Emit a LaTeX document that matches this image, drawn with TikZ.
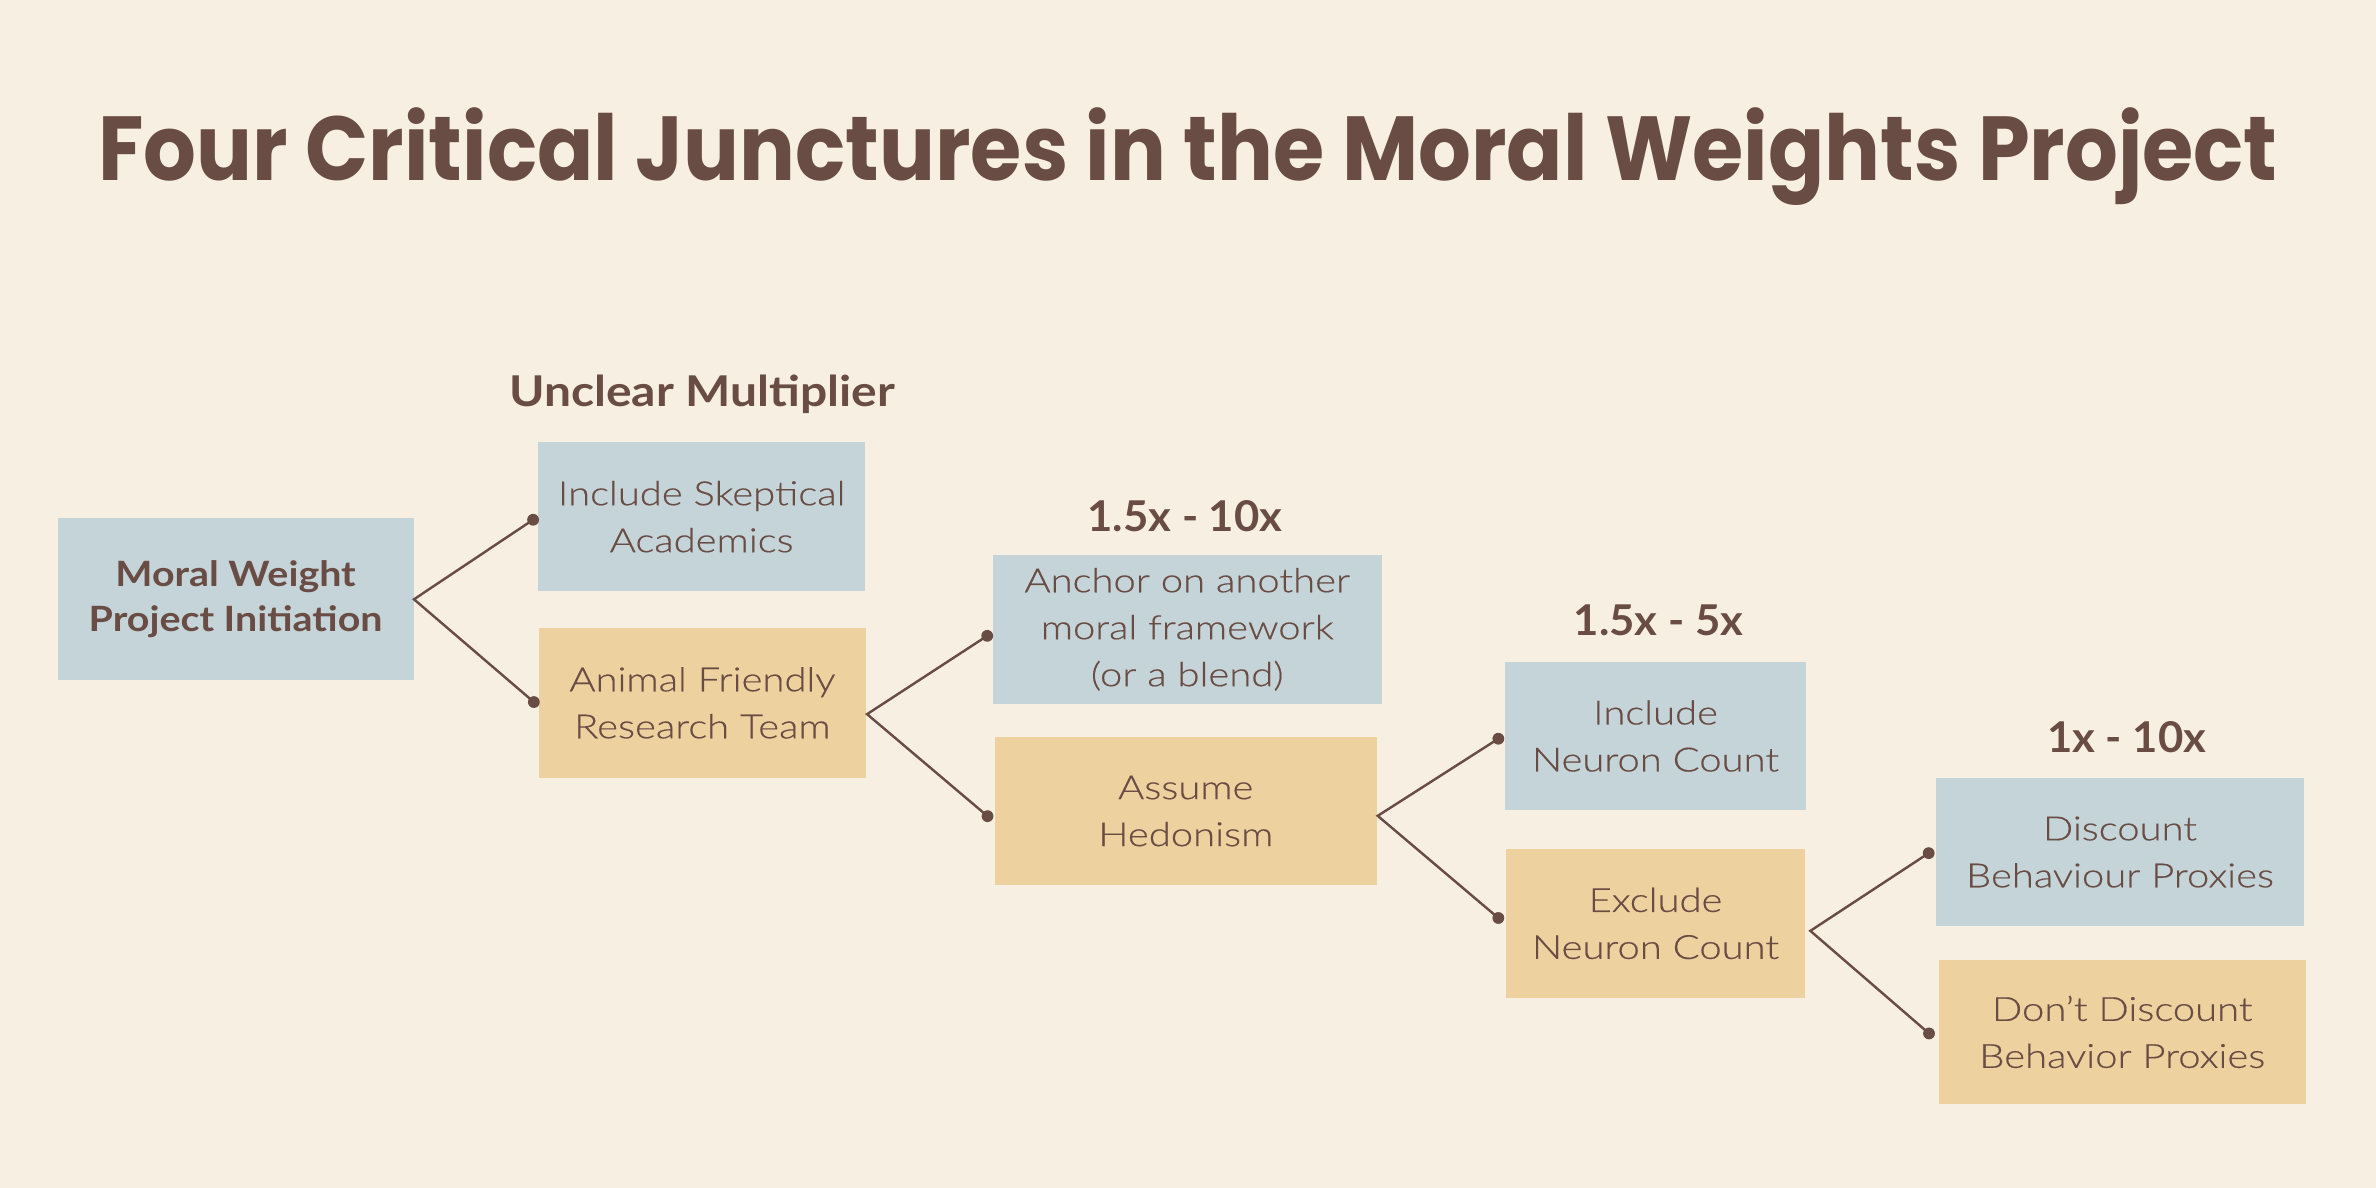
\documentclass[tikz,border=0pt]{standalone}
\usepackage{fontspec}
\usepackage{graphicx}
\setmainfont{Lato}
\newfontfamily\titlefont{Poppins}
\newfontfamily\bodyfont{Lato}[UprightFont=* Light, FakeStretch=1.2, FakeBold=0.4]
\newfontfamily\boldfont{Lato}[UprightFont=* Bold, FakeStretch=1.13]
\newfontfamily\numfont{Lato}[UprightFont=* Bold, FakeStretch=1.03]
\definecolor{bg}{HTML}{F7EFE2}
\definecolor{bluebox}{HTML}{C4D4D8}
\definecolor{tanbox}{HTML}{EDD29F}
\definecolor{ink}{HTML}{694C44}
\usetikzlibrary{calc}
\begin{document}
\begin{tikzpicture}[x=1pt,y=-1pt,
  box/.style={rectangle, inner sep=0pt, align=center, text=ink,
    font=\bodyfont\fontsize{22}{31}\selectfont},
  bluebx/.style={box, fill=bluebox},
  tanbx/.style={box, fill=tanbox},
  hdr/.style={text=ink, font=\boldfont\fontsize{28}{34}\selectfont,
    anchor=base, inner sep=0pt},
  numhdr/.style={hdr, font=\numfont\fontsize{28}{34}\selectfont},
  conn/.style={draw=ink, line width=1.6pt, line join=miter},
  enddot/.style={fill=ink}
]
\fill[bg] (0,0) rectangle (1568,784);
\useasboundingbox (0,0) rectangle (1568,784);

% title
\node[text=ink, anchor=base, inner sep=0pt,
  font=\titlefont\bfseries\fontsize{60}{70}\selectfont] (title) at (784,119)
  {\resizebox{1438pt}{\height}{Four Critical Junctures in the Moral Weights Project}};

% headers
\node[hdr] (h1) at (463.5,268.4) {Unclear Multiplier};
\node[numhdr] (h2) at (782,351) {1.5x - 10x};
\node[numhdr] (h3) at (1094.5,419.4) {1.5x - 5x};
\node[numhdr] (h4) at (1403.5,496.3) {1x - 10x};

% boxes
\node[bluebx, minimum width=235pt, minimum height=107pt,
  font=\boldfont\fontsize{23}{30}\selectfont] (moral) at (155.5,395.5)
  {Moral Weight\\Project Initiation};
\node[bluebx, minimum width=216pt, minimum height=98pt] (skept) at (463,341)
  {Include Skeptical\\Academics};
\node[tanbx, minimum width=216pt, minimum height=99pt] (animal) at (463.5,463.8)
  {Animal Friendly\\Research Team};
\node[bluebx, minimum width=257pt, minimum height=98pt] (anchor) at (783.5,415.3)
  {Anchor on another\\moral framework\\(or a blend)};
\node[tanbx, minimum width=252pt, minimum height=98pt] (hedon) at (782.5,535.2)
  {Assume\\Hedonism};
\node[bluebx, minimum width=199pt, minimum height=98pt] (incl) at (1092.5,485.7)
  {Include\\Neuron Count};
\node[tanbx, minimum width=197pt, minimum height=98pt] (excl) at (1092.5,609.4)
  {Exclude\\Neuron Count};
\node[bluebx, minimum width=243pt, minimum height=98pt] (disc) at (1399,562.3)
  {Discount\\Behaviour Proxies};
\node[tanbx, minimum width=242pt, minimum height=95pt] (dont) at (1400.5,681)
  {Don’t Discount\\Behavior Proxies};

% connector points
\coordinate (v1) at (moral.east);
\coordinate (e1a) at ($(skept.west)+(-3,2)$);
\coordinate (e1b) at ($(animal.west)+(-3,-0.5)$);
\coordinate (v2) at ($(animal.east)+(0.5,7.5)$);
\coordinate (e2a) at ($(anchor.west)+(-3.3,4.3)$);
\coordinate (e2b) at ($(hedon.west)+(-4.6,3.4)$);
\coordinate (v3) at ($(hedon.east)+(0.5,3.2)$);
\coordinate (e3a) at ($(incl.west)+(-4,1.8)$);
\coordinate (e3b) at ($(excl.west)+(-5,-3.6)$);
\coordinate (v4) at ($(excl.east)+(3.5,4.9)$);
\coordinate (e4a) at ($(disc.west)+(-4.5,0.7)$);
\coordinate (e4b) at ($(dont.west)+(-6.3,1)$);

\draw[conn] (e1a) -- (v1) -- (e1b);
\draw[conn] (e2a) -- (v2) -- (e2b);
\draw[conn] (e3a) -- (v3) -- (e3b);
\draw[conn] (e4a) -- (v4) -- (e4b);
\foreach \p in {e1a,e1b,e2a,e2b,e3a,e3b,e4a,e4b}
  \fill[enddot] (\p) circle (3.9);
\end{tikzpicture}
\end{document}
